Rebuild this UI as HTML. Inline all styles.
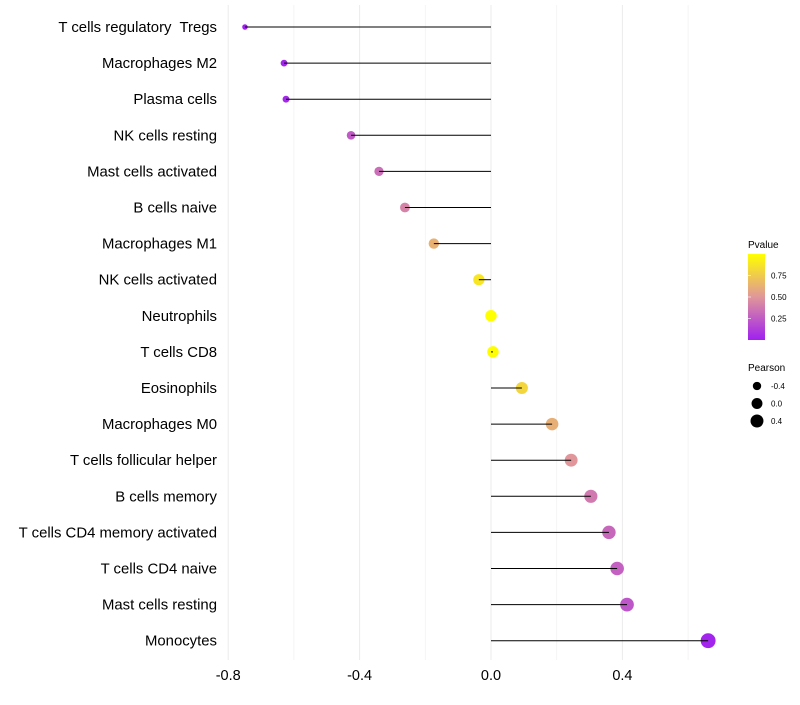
<!DOCTYPE html>
<html><head><meta charset="utf-8"><style>
body{margin:0;background:#fff;font-family:"Liberation Sans",sans-serif}
text{white-space:pre}
</style></head><body>
<svg id="c" width="800" height="700" xmlns="http://www.w3.org/2000/svg" font-family="Liberation Sans, sans-serif"></svg>
<script>
const categories=["T cells regulatory  Tregs","Macrophages M2","Plasma cells","NK cells resting","Mast cells activated","B cells naive","Macrophages M1","NK cells activated","Neutrophils","T cells CD8","Eosinophils","Macrophages M0","T cells follicular helper","B cells memory","T cells CD4 memory activated","T cells CD4 naive","Mast cells resting","Monocytes"];
const pearson=[-0.749,-0.63,-0.624,-0.426,-0.341,-0.262,-0.174,-0.037,0.0,0.006,0.094,0.186,0.244,0.304,0.359,0.384,0.414,0.661];
const pvalues=[0.0,0.02,0.03,0.25,0.33,0.42,0.63,0.88,1.0,0.99,0.8,0.62,0.5,0.38,0.3,0.27,0.23,0.02];
const xTicks=[-0.8,-0.4,0.0,0.4];
const xMinor=[-0.6,-0.2,0.2,0.6];
const pTicks=[0.25,0.5,0.75];
const sizeTicks=[-0.4,0.0,0.4];
const svg=document.getElementById('c');const NS="http://www.w3.org/2000/svg";
const X=v=>491+v*328.5, Y=i=>27+i*36.1;
const R=v=>Math.sqrt(Math.max(2,33+34*v));
function col(p){const a=[160,32,240],m=[224,150,154],b=[255,255,0];let c;
 if(p<0.5){const t=p/0.5;c=a.map((x,k)=>x+(m[k]-x)*t);}else{const t=(p-0.5)/0.5;c=m.map((x,k)=>x+(b[k]-x)*t);}
 return `rgb(${c.map(Math.round).join(',')})`;}
function el(t,at,txt){const e=document.createElementNS(NS,t);for(const k in at)e.setAttribute(k,at[k]);if(txt!=null)e.textContent=txt;svg.appendChild(e);return e;}
xMinor.forEach(v=>{const e=el('line',{x1:X(v),x2:X(v),y1:5,y2:660,stroke:'#f2f2f2','stroke-width':0.8});

});
xTicks.forEach(v=>{const e=el('line',{x1:X(v),x2:X(v),y1:5,y2:660,stroke:'#ebebeb','stroke-width':1});


const t=el('text',{x:X(v),y:680,'text-anchor':'middle','font-size':14.5,fill:'#000'},v.toFixed(1));

});
categories.forEach((c,i)=>{
const t=el('text',{x:217,y:Y(i)+5,'text-anchor':'end','font-size':14.9,fill:'#000'},c);


const p=el('circle',{cx:X(pearson[i]),cy:Y(i),r:R(pearson[i]),fill:col(pvalues[i])});


const l=el('line',{x1:X(0),x2:X(pearson[i]),y1:Y(i),y2:Y(i),stroke:'#000','stroke-width':1});

});
const g=el('defs',{});g.innerHTML='<linearGradient id="pg" x1="0" y1="1" x2="0" y2="0"><stop offset="0" stop-color="rgb(160,32,240)"/><stop offset="0.5" stop-color="rgb(224,150,154)"/><stop offset="1" stop-color="rgb(255,255,0)"/></linearGradient>';
let t=el('text',{x:748,y:248,'font-size':10},'Pvalue');


const bar=el('rect',{x:748,y:254,width:17,height:86,fill:'url(#pg)'});


pTicks.forEach(v=>{const y=340-v*86;
const tk=el('text',{x:771,y:y+3,'font-size':8},v.toFixed(2));


const ln=el('line',{x1:748,x2:751,y1:y,y2:y,stroke:'#fff','stroke-opacity':0.6});

});
t=el('text',{x:748,y:371,'font-size':10},'Pearson');


sizeTicks.forEach((v,i)=>{const y=386+i*17.5;
const c=el('circle',{cx:757,cy:y,r:R(v)*0.95,fill:'#000'});


const tx=el('text',{x:771,y:y+3,'font-size':8},v.toFixed(1));

});
</script>
</body></html>
